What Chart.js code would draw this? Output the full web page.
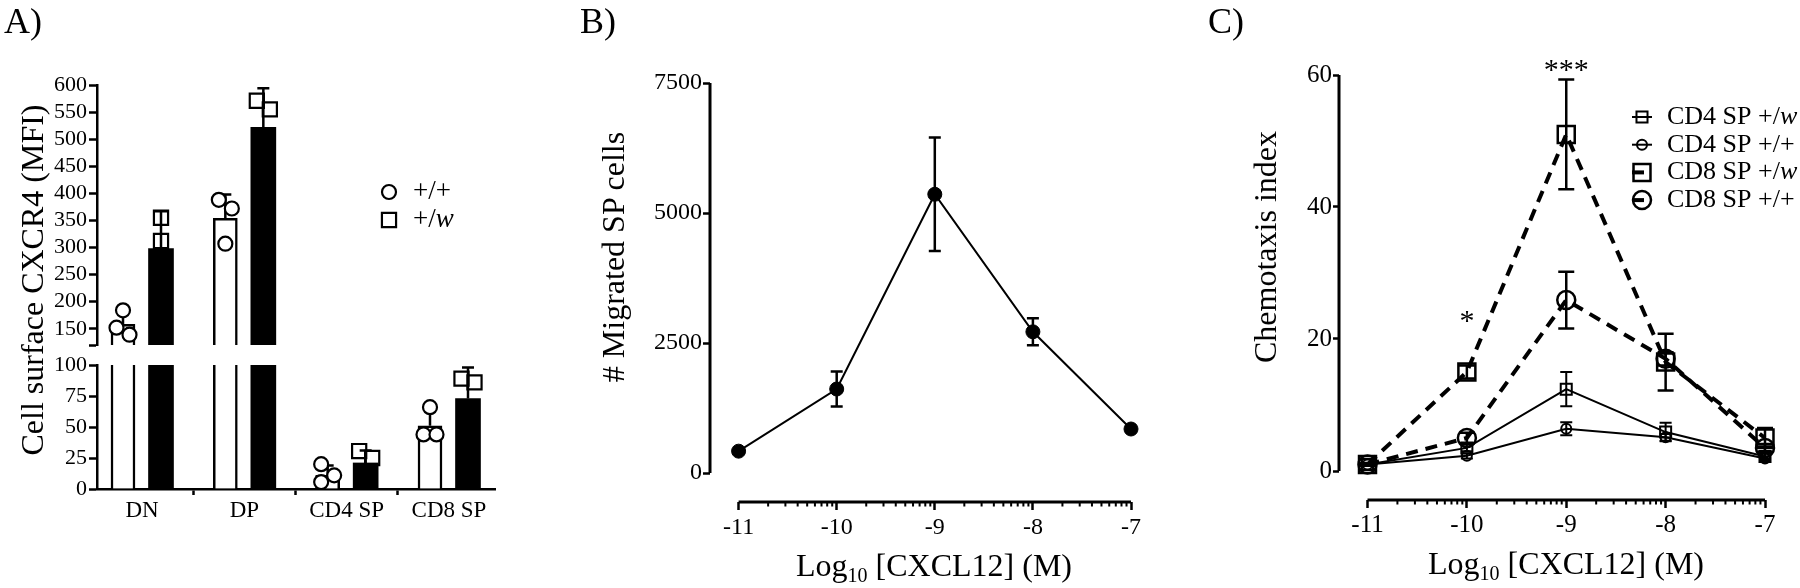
<!DOCTYPE html>
<html>
<head>
<meta charset="utf-8">
<script src="https://cdn.jsdelivr.net/npm/chart.js@4.4.0/dist/chart.umd.min.js"></script>
<style>
  body { margin: 0; background: #fff; }
  #fig { position: relative; width: 1800px; height: 588px; overflow: hidden; font-family: 'Liberation Serif', serif; color: #000; }
  #fig canvas { position: absolute; left: 0; top: 0; }
  .lbl { position: absolute; white-space: nowrap; line-height: 1; font-family: 'Liberation Serif', serif; }
  .panel { font-size: 36px; }
  .ytitle { font-size: 32px; transform: translate(-50%, -50%) rotate(-90deg); }
  .xtitle { font-size: 32px; transform: translate(-50%, -50%); }
  sub { font-size: 20px; vertical-align: -6px; line-height: 0; }
</style>
</head>
<body>
<div id="fig">
  <canvas id="aTop" width="1800" height="588"></canvas>
  <canvas id="aBottom" width="1800" height="588"></canvas>
  <canvas id="migration" width="1800" height="588"></canvas>
  <canvas id="chemotaxis" width="1800" height="588"></canvas>

  <div class="lbl panel" style="left:4px;top:3px">A)</div>
  <div class="lbl panel" style="left:580px;top:3px">B)</div>
  <div class="lbl panel" style="left:1208px;top:3px">C)</div>

  <div class="lbl ytitle" style="left:32px;top:280px">Cell surface CXCR4 (MFI)</div>
  <div class="lbl ytitle" style="left:613px;top:257px"># Migrated SP cells</div>
  <div class="lbl ytitle" style="left:1265px;top:247px">Chemotaxis index</div>
  <div class="lbl xtitle" style="left:934px;top:565px">Log<sub>10</sub> [CXCL12] (M)</div>
  <div class="lbl xtitle" style="left:1566px;top:563px">Log<sub>10</sub> [CXCL12] (M)</div>
</div>

<script>
// ---- data: panel A (CXCR4 MFI) ----
const categories = ['DN', 'DP', 'CD4 SP', 'CD8 SP'];
const wtMean = [158, 354, 11, 51];
const wtSD = [24, 44, 8, 12];
const wtPoints = [[184, 152, 139], [388, 372, 307], [20, 11, 5.6], [66, 44, 44]];
const mutMean = [298, 522, 21, 73];
const mutSD = [69, 72, 10, 25];
const mutPoints = [[355, 312, 227], [571, 555, 440], [30.6, 25, 7.4], [89, 86, 44]];
const aTicksUpper = [120, 150, 200, 250, 300, 350, 400, 450, 500, 550, 600];
const aTicksLower = [0, 25, 50, 75, 100];

// ---- data: panel B (migrated SP cells) ----
const logDose = [-11, -10, -9, -8, -7];
const migrated = [420, 1615, 5360, 2715, 846];
const migratedSEM = [20, 335, 1090, 260, 20];
const bTicks = [0, 2500, 5000, 7500];

// ---- data: panel C (chemotaxis index) ----
const chemoSeries = ['CD4 SP +/w', 'CD4 SP +/+', 'CD8 SP +/w', 'CD8 SP +/+'];
const cd4Mut = [1.0, 3.5, 12.4, 5.9, 2.2];
const cd4MutSEM = [0.2, 0.5, 2.6, 1.4, 0.4];
const cd4Wt = [1.0, 2.3, 6.4, 5.1, 1.9];
const cd4WtSEM = [0.1, 0.4, 1.0, 0.5, 0.3];
const cd8Mut = [1.0, 15.0, 51.0, 16.5, 5.0];
const cd8MutSEM = [0.2, 1.0, 8.3, 4.3, 1.5];
const cd8Wt = [1.0, 5.0, 25.9, 17.0, 3.5];
const cd8WtSEM = [0.1, 0.8, 4.3, 1.0, 0.6];
const cTicks = [0, 20, 40, 60];
const sigX = [-10, -9];
const sigY = [23.5, 61.5];
const sigText = ['*', '***'];

// ---- layout ----
const W = 1800, H = 588;
const A_UP = { l: 97, r: 495, t: 85, b: 345 };
const A_LO = { l: 97, r: 495, t: 365, b: 489 };
const B_AREA = { l: 710, r: 1131, t: 83, b: 502 };
const C_AREA = { l: 1339, r: 1765, t: 75, b: 500 };
const RIGHT_ROOM = 12; // chart area runs a bit past the last dose

Chart.defaults.font.family = "'Liberation Serif', serif";
Chart.defaults.color = '#000';
Chart.defaults.animation = false;
Chart.defaults.responsive = false;
Chart.defaults.devicePixelRatio = 1;
Chart.defaults.plugins.legend.display = false;
Chart.defaults.plugins.tooltip.enabled = false;

function padding(area, yW, xH, extraRight) {
  return { left: area.l - yW, right: W - area.r - (extraRight || 0), top: area.t, bottom: H - area.b - xH };
}
// extend an axis range so that the first value sits `gap` px inside the area
function extendLow(lo, hi, spanPx, gap) {
  return lo - gap * (hi - lo) / (spanPx - gap);
}

// error bars drawn right after their dataset
const errorBars = {
  id: 'errorBars',
  afterDatasetDraw(chart, args, opts) {
    const ds = chart.data.datasets[args.index];
    if (!ds.errors) return;
    const meta = args.meta;
    const ys = chart.scales[meta.yAxisID];
    const a = chart.chartArea;
    const ctx = chart.ctx;
    ctx.save();
    if (opts.clip) {
      ctx.beginPath();
      ctx.rect(a.left - 30, a.top, a.right - a.left + 60, a.bottom - a.top);
      ctx.clip();
    }
    ctx.strokeStyle = '#000';
    ctx.lineWidth = ds.errWidth || 2;
    meta.data.forEach((el, i) => {
      const err = ds.errors[i];
      if (err == null) return;
      const v = meta.controller.getParsed(i).y;
      const half = (ds.capWidth || 12) / 2;
      const yHi = ys.getPixelForValue(v + err);
      const yLo = ys.getPixelForValue(ds.errUpOnly ? v : v - err);
      ctx.beginPath();
      ctx.moveTo(el.x, yLo); ctx.lineTo(el.x, yHi);
      ctx.moveTo(el.x - half, yHi); ctx.lineTo(el.x + half, yHi);
      if (!ds.errUpOnly) { ctx.moveTo(el.x - half, yLo); ctx.lineTo(el.x + half, yLo); }
      ctx.stroke();
    });
    ctx.restore();
  }
};

// detached axis lines (Prism style) with log minor ticks
const offsetAxes = {
  id: 'offsetAxes',
  afterDraw(chart, args, o) {
    if (o.xFrom == null) return;
    const { ctx, chartArea: a, scales: { x, y } } = chart;
    ctx.save();
    ctx.strokeStyle = '#000';
    ctx.lineWidth = 3;
    ctx.beginPath();
    ctx.moveTo(a.left, y.getPixelForValue(o.yTo));
    ctx.lineTo(a.left, y.getPixelForValue(o.yFrom));
    ctx.moveTo(x.getPixelForValue(o.xFrom), a.bottom);
    ctx.lineTo(x.getPixelForValue(o.xTo), a.bottom);
    ctx.stroke();
    ctx.lineWidth = 2;
    ctx.beginPath();
    for (let d = o.xFrom; d < o.xTo; d++) {
      for (let k = 2; k <= 9; k++) {
        const px = x.getPixelForValue(d + Math.log10(k));
        ctx.moveTo(px, a.bottom);
        ctx.lineTo(px, a.bottom + 4.5);
      }
    }
    ctx.stroke();
    ctx.restore();
  }
};

// key drawn from the datasets' own styles
const keyPlugin = {
  id: 'key',
  afterDraw(chart, args, o) {
    if (!o.datasets) return;
    const ctx = chart.ctx;
    ctx.save();
    o.datasets.forEach((di, row) => {
      const ds = chart.data.datasets[di];
      const y = o.y + row * o.gap;
      ctx.strokeStyle = '#000';
      if (o.lines) {
        ctx.lineWidth = ds.borderWidth;
        ctx.setLineDash(ds.borderDash || []);
        ctx.beginPath();
        ctx.moveTo(o.x - o.lineHalf, y);
        ctx.lineTo(o.x + o.lineHalf, y);
        ctx.stroke();
        ctx.setLineDash([]);
      }
      ctx.fillStyle = ds.pointBackgroundColor;
      ctx.lineWidth = ds.pointBorderWidth;
      Chart.helpers.drawPoint(ctx, { pointStyle: ds.pointStyle, radius: ds.pointRadius, borderWidth: ds.pointBorderWidth, rotation: 0 }, o.x, y);
      const label = ds.label;
      const parts = label.endsWith('w') ? [[label.slice(0, -1), false], ['w', true]] : [[label, false]];
      let tx = o.textX;
      ctx.fillStyle = '#000';
      ctx.textBaseline = 'middle';
      ctx.textAlign = 'left';
      parts.forEach(([t, it]) => {
        ctx.font = (it ? 'italic ' : '') + o.size + "px 'Liberation Serif', serif";
        ctx.fillText(t, tx, y);
        tx += ctx.measureText(t).width;
      });
    });
    ctx.restore();
  }
};

// significance stars
const sigPlugin = {
  id: 'sig',
  afterDatasetsDraw(chart, args, o) {
    if (!o.size) return;
    const { ctx, scales: { x, y } } = chart;
    ctx.save();
    ctx.font = o.size + "px 'Liberation Serif', serif";
    ctx.textAlign = 'center';
    ctx.textBaseline = 'alphabetic';
    ctx.fillStyle = '#000';
    sigX.forEach((v, i) => {
      ctx.fillText(sigText[i], x.getPixelForValue(v), y.getPixelForValue(sigY[i]) + o.size * 0.47);
    });
    ctx.restore();
  }
};

const plugins = [errorBars, offsetAxes, keyPlugin, sigPlugin];

function yAxis(min, max, ticks, width, size, tickLen, pad, border, hideFirst) {
  return {
    type: 'linear', position: 'left', min, max,
    afterBuildTicks: s => { s.ticks = ticks.map(v => ({ value: v })); },
    afterFit: s => { s.width = width; },
    border: { display: border, color: '#000', width: 2.5 },
    grid: { drawOnChartArea: false, drawTicks: true, tickLength: tickLen, tickWidth: 2.5, tickColor: '#000' },
    ticks: {
      font: { size }, color: '#000', padding: pad, autoSkip: false,
      callback: v => (hideFirst && v === ticks[0]) ? '' : String(v)
    }
  };
}

// ---------- panel A: broken y axis = two stacked charts ----------
const aXmin = -(142 - A_UP.l) / 102.33;
const aXmax = 3 + (A_UP.r - 449) / 102.33;
const aUnit = (A_UP.r - A_UP.l) / (aXmax - aXmin);
const SIDE = 19 / aUnit;
const SPREAD = 6.5 / aUnit;

// points closer than a marker diameter are spread left/right alternately
function swarm(vals, pxPerUnit) {
  const order = vals.map((v, i) => i).sort((p, q) => vals[q] - vals[p]);
  const off = new Array(vals.length).fill(0);
  let cluster = [order[0]];
  const flush = () => {
    if (cluster.length > 1) cluster.forEach((idx, k) => { off[idx] = (k % 2 === 0 ? -1 : 1) * SPREAD; });
  };
  for (let k = 1; k < order.length; k++) {
    const prev = order[k - 1], cur = order[k];
    if ((vals[prev] - vals[cur]) * pxPerUnit < 14) cluster.push(cur);
    else { flush(); cluster = [cur]; }
  }
  flush();
  return off;
}

function pointsFor(groups, center, inRange, pxPerUnit) {
  const out = [];
  groups.forEach((vals, i) => {
    const off = swarm(vals, pxPerUnit);
    vals.forEach((v, k) => { if (inRange(v)) out.push({ x: i + center + off[k], y: v }); });
  });
  return out;
}

function panelA(id, area, yMin, yMax, ticks, showX) {
  const pxPerUnit = (area.b - area.t) / (yMax - yMin);
  const inRange = v => v >= yMin && v <= yMax;
  const xH = showX ? 50 : 0;
  return new Chart(document.getElementById(id), {
    type: 'bar',
    data: {
      datasets: [
        {
          label: '+/+ mean', data: wtMean.map((v, i) => ({ x: i - SIDE, y: v })),
          backgroundColor: '#fff', borderColor: '#000', borderWidth: 2.5,
          barThickness: 24, barPercentage: 1, grouped: false, clip: 0, order: 3,
          errors: wtSD, errUpOnly: true, capWidth: 12, errWidth: 2.5
        },
        {
          label: '+/w mean', data: mutMean.map((v, i) => ({ x: i + SIDE, y: v })),
          backgroundColor: '#000', borderColor: '#000', borderWidth: 0,
          barThickness: 25, barPercentage: 1, grouped: false, clip: 0, order: 2,
          errors: mutSD, errUpOnly: true, capWidth: 12, errWidth: 2.5
        },
        {
          type: 'scatter', label: '+/+', order: 1,
          data: pointsFor(wtPoints, -SIDE, inRange, pxPerUnit),
          pointStyle: 'circle', pointRadius: 7, pointBorderWidth: 2.2,
          pointBackgroundColor: '#fff', pointBorderColor: '#000'
        },
        {
          type: 'scatter', label: '+/w', order: 1,
          data: pointsFor(mutPoints, SIDE, inRange, pxPerUnit),
          pointStyle: 'rect', pointRadius: 10, pointBorderWidth: 2.2,
          pointBackgroundColor: 'rgba(0,0,0,0)', pointBorderColor: '#000'
        }
      ]
    },
    options: {
      layout: { padding: padding(area, 60, xH) },
      scales: {
        x: {
          type: 'linear', min: aXmin, max: aXmax, display: showX, offset: false,
          afterBuildTicks: s => { s.ticks = categories.map((c, i) => ({ value: i })); },
          afterFit: s => { s.height = xH; },
          border: { display: true, color: '#000', width: 2.5 },
          grid: { drawOnChartArea: false, drawTicks: true, tickLength: 6, tickWidth: 2.5, tickColor: '#000' },
          ticks: { font: { size: 23 }, color: '#000', padding: 2, maxRotation: 0, autoSkip: false, callback: v => categories[v] ?? '' }
        },
        y: yAxis(yMin, yMax, ticks, 60, 22, 8, 2, true, !showX)
      },
      plugins: {
        errorBars: { clip: true },
        key: showX ? {} : { datasets: [2, 3], x: 389, y: 192, gap: 28, textX: 413, size: 27, lines: false }
      }
    },
    plugins
  });
}

panelA('aTop', A_UP, aTicksUpper[0], 600, aTicksUpper, false);
panelA('aBottom', A_LO, 0, 100, aTicksLower, true);

// ---------- panels B and C: log-dose x axis ----------
function doseAxis(area, gap, size, pad) {
  const lo = logDose[0], hi = logDose[logDose.length - 1];
  const min = extendLow(lo, hi, area.r - area.l, gap);
  const perPx = (hi - min) / (area.r - area.l);
  return {
    type: 'linear',
    min,
    max: hi + RIGHT_ROOM * perPx,
    afterBuildTicks: s => { s.ticks = logDose.map(v => ({ value: v })); },
    afterFit: s => { s.height = 50; },
    border: { display: false },
    grid: { drawOnChartArea: false, drawTicks: true, tickLength: 8, tickWidth: 2.5, tickColor: '#000' },
    ticks: { font: { size }, color: '#000', padding: pad, maxRotation: 0, autoSkip: false, callback: v => String(v) }
  };
}

new Chart(document.getElementById('migration'), {
  type: 'line',
  data: {
    datasets: [{
      label: 'SP cells',
      data: logDose.map((d, i) => ({ x: d, y: migrated[i] })),
      borderColor: '#000', borderWidth: 2, tension: 0,
      pointRadius: 7, pointBackgroundColor: '#000', pointBorderColor: '#000', pointBorderWidth: 1,
      errors: migratedSEM, capWidth: 12, errWidth: 2.5
    }]
  },
  options: {
    layout: { padding: padding(B_AREA, 60, 50, RIGHT_ROOM) },
    scales: {
      x: doseAxis(B_AREA, 28.6, 24, 3),
      y: yAxis(extendLow(0, 7500, B_AREA.b - B_AREA.t, 29), 7500, bTicks, 60, 24, 7, 1, false, false)
    },
    plugins: {
      offsetAxes: { xFrom: -11, xTo: -7, yFrom: 0, yTo: 7500 }
    }
  },
  plugins
});

function chemoSet(label, vals, sem, style, radius, dashed) {
  return {
    label,
    data: logDose.map((d, i) => ({ x: d, y: vals[i] })),
    borderColor: '#000', borderWidth: dashed ? 4 : 2, borderDash: dashed ? [12, 8] : [],
    tension: 0,
    pointStyle: style, pointRadius: radius, pointBorderWidth: dashed ? 2.5 : 2,
    pointBackgroundColor: 'rgba(0,0,0,0)', pointBorderColor: '#000',
    errors: sem, capWidth: dashed ? 16 : 12, errWidth: dashed ? 2.5 : 2
  };
}

new Chart(document.getElementById('chemotaxis'), {
  type: 'line',
  data: {
    datasets: [
      chemoSet(chemoSeries[0], cd4Mut, cd4MutSEM, 'rect', 7.8, false),
      chemoSet(chemoSeries[1], cd4Wt, cd4WtSEM, 'circle', 5, false),
      chemoSet(chemoSeries[2], cd8Mut, cd8MutSEM, 'rect', 12, true),
      chemoSet(chemoSeries[3], cd8Wt, cd8WtSEM, 'circle', 9, true)
    ]
  },
  options: {
    layout: { padding: padding(C_AREA, 60, 50, RIGHT_ROOM) },
    scales: {
      x: doseAxis(C_AREA, 28.5, 25, 2),
      y: yAxis(extendLow(0, 60, C_AREA.b - C_AREA.t, 29), 60, cTicks, 60, 25, 6, 1, false, false)
    },
    plugins: {
      offsetAxes: { xFrom: -11, xTo: -7, yFrom: 0, yTo: 60 },
      key: { datasets: [0, 1, 2, 3], x: 1642, y: 117, gap: 27.7, textX: 1667, size: 26, lines: true, lineHalf: 10 },
      sig: { size: 30 }
    }
  },
  plugins
});
</script>
</body>
</html>
